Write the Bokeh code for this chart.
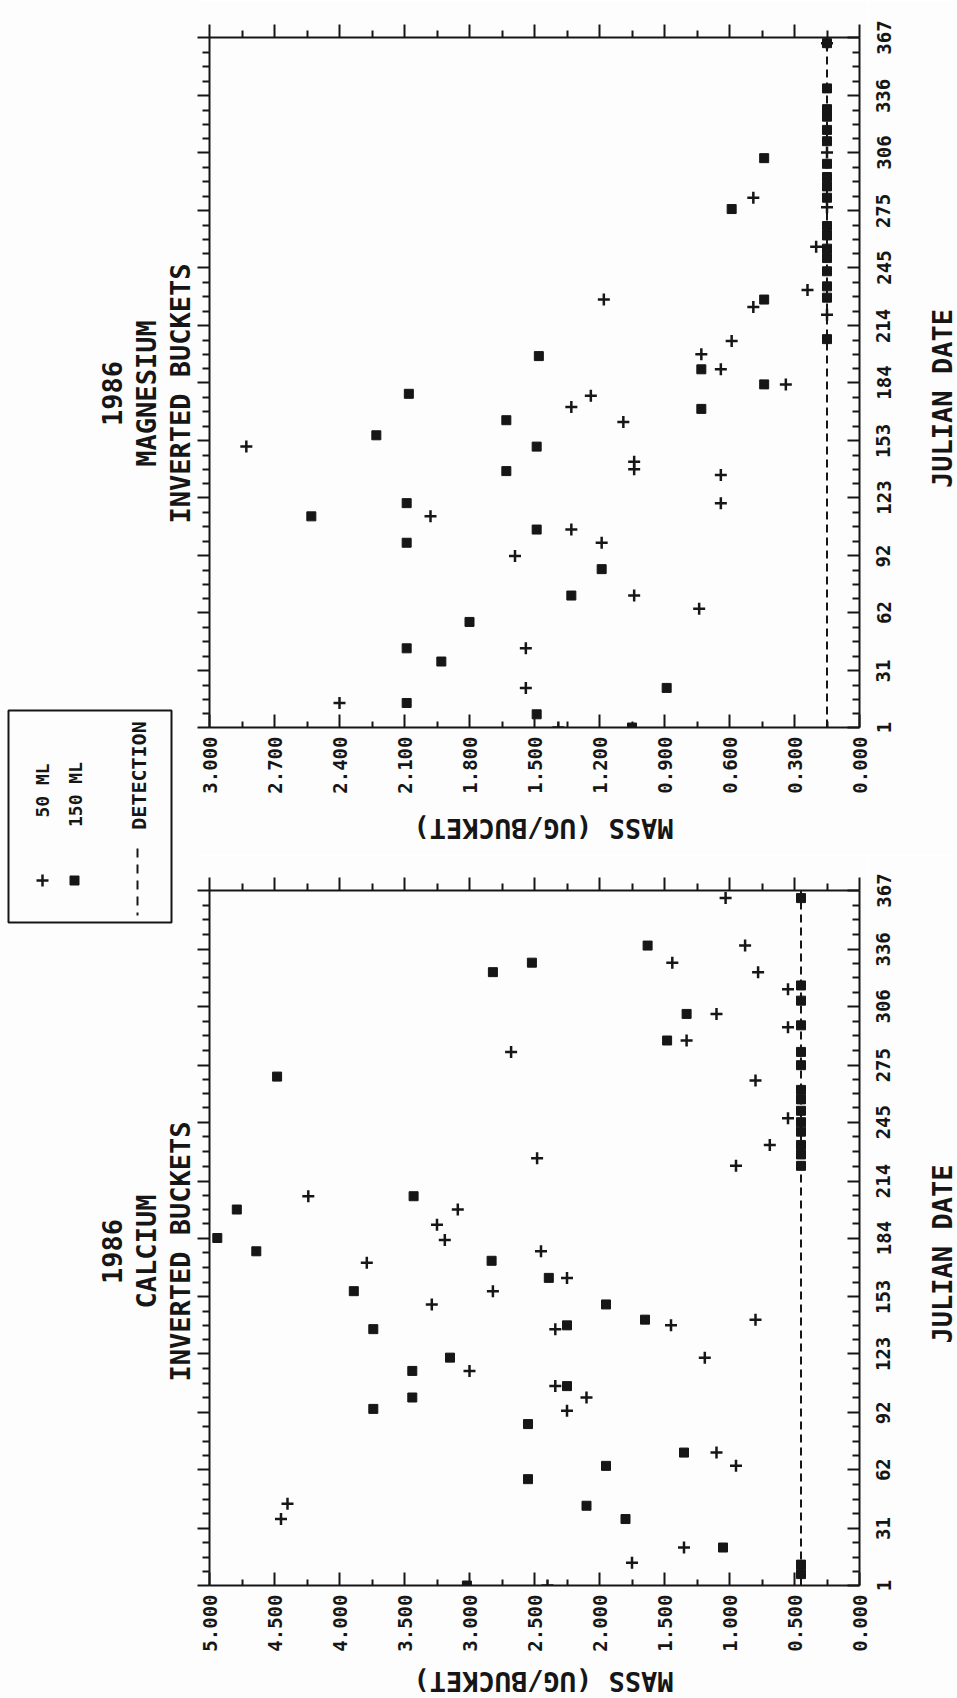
import math

from bokeh.embed import file_html
from bokeh.layouts import column, row
from bokeh.models import FixedTicker, Label, LinearAxis, PrintfTickFormatter, Range1d
from bokeh.plotting import figure
from bokeh.resources import INLINE

# ---------------------------------------------------------------- data
JULIAN_TICKS = [1, 31, 62, 92, 123, 153, 184, 214, 245, 275, 306, 336, 367]

MG_MASS_TICKS = [0.0, 0.3, 0.6, 0.9, 1.2, 1.5, 1.8, 2.1, 2.4, 2.7, 3.0]
CA_MASS_TICKS = [0.0, 0.5, 1.0, 1.5, 2.0, 2.5, 3.0, 3.5, 4.0, 4.5, 5.0]

MG_DETECTION = 0.15
CA_DETECTION = 0.45

# magnesium, 50 ml samples (julian day, mass ug/bucket)
MG_50_DAY = [1, 14, 22, 43, 64, 71, 92, 99, 106, 113, 120, 135, 138, 142, 150,
             163, 171, 177, 183, 191, 199, 206, 220, 224, 228, 233, 256, 277,
             282, 306, 364]
MG_50_MASS = [1.39, 2.40, 1.54, 1.54, 0.74, 1.04, 1.59, 1.19, 1.33, 1.98, 0.64,
              0.64, 1.04, 1.04, 2.83, 1.09, 1.33, 1.24, 0.34, 0.64, 0.73, 0.59,
              0.15, 0.49, 1.18, 0.24, 0.20, 0.15, 0.49, 0.15, 0.15]

# magnesium, 150 ml samples
MG_150_DAY = [1, 8, 14, 22, 36, 43, 57, 71, 85, 99, 106, 113, 120, 137, 150,
              156, 164, 170, 178, 183, 191, 198, 207, 228, 229, 235, 243, 250,
              255, 262, 267, 276, 282, 288, 293, 300, 303, 312, 318, 325, 329,
              340, 364]
MG_150_MASS = [1.05, 1.49, 2.09, 0.89, 1.93, 2.09, 1.80, 1.33, 1.19, 2.09, 1.49,
               2.53, 2.09, 1.63, 1.49, 2.23, 1.63, 0.73, 2.08, 0.44, 0.73, 1.48,
               0.15, 0.44, 0.15, 0.15, 0.15, 0.15, 0.15, 0.15, 0.15, 0.59, 0.15,
               0.15, 0.15, 0.15, 0.44, 0.15, 0.15, 0.15, 0.15, 0.15, 0.15]

# calcium, 50 ml samples
CA_50_DAY = [1, 13, 21, 36, 44, 64, 71, 93, 100, 106, 114, 121, 136, 138, 141,
             149, 156, 163, 171, 177, 183, 191, 199, 206, 222, 226, 233, 247,
             267, 282, 288, 295, 302, 315, 324, 329, 338, 363]
CA_50_MASS = [2.40, 1.75, 1.35, 4.45, 4.40, 0.95, 1.10, 2.25, 2.10, 2.34, 3.00,
              1.19, 2.34, 1.45, 0.80, 3.29, 2.82, 2.25, 3.79, 2.45, 3.19, 3.25,
              3.09, 4.24, 0.95, 2.48, 0.69, 0.55, 0.80, 2.68, 1.33, 0.55, 1.10,
              0.55, 0.78, 1.44, 0.88, 1.03]

# calcium, 150 ml samples
CA_150_DAY = [1, 7, 12, 21, 36, 43, 57, 64, 71, 86, 94, 100, 106, 114, 121,
              136, 138, 141, 149, 156, 163, 172, 177, 184, 199, 206, 222, 228,
              233, 240, 245, 251, 257, 262, 269, 275, 282, 288, 296, 302, 309,
              317, 324, 329, 338, 363]
CA_150_MASS = [3.02, 0.45, 0.45, 1.05, 1.80, 2.10, 2.55, 1.95, 1.35, 2.55, 3.74,
               3.44, 2.25, 3.44, 3.15, 3.74, 2.25, 1.65, 1.95, 3.89, 2.39, 2.83,
               4.64, 4.94, 4.79, 3.43, 0.45, 0.45, 0.45, 0.45, 0.45, 0.45, 0.45,
               0.45, 4.48, 0.45, 0.45, 1.48, 0.45, 1.33, 0.45, 0.45, 2.82, 2.52,
               1.63, 0.45]

# ---------------------------------------------------------------- style
FONT = "DejaVu Sans Mono"
WEIGHT = "bold"
INK = "#161616"
PAPER = "#fdfdfd"
PAGE_W, PAGE_H = 957, 1698

SIDE_W = 197          # strip with the panel titles and the legend
FRAME_W = 650
BORDER_L = 12
BORDER_R = 9          # room for the half of the last mass label past the frame
PANEL_W = BORDER_L + FRAME_W + BORDER_R
DAYS_W = PAGE_W - SIDE_W - PANEL_W     # day labels and "JULIAN DATE"
DAYS_GAP = 24                           # from panel edge to the day-label frame
DAYS_STANDOFF = 2

MG_H, MG_TOP, MG_FRAME = 805, 37, 690
MG_STRIP = 50
CA_H, CA_TOP, CA_FRAME = 805, 35, 695
CA_STRIP = PAGE_H - MG_H - MG_STRIP - CA_H


def quarter_ticks(major):
    out = []
    for a, b in zip(major[:-1], major[1:]):
        out += [a + (b - a) * k / 4 for k in (1, 2, 3)]
    return out


def half_ticks(major):
    return [(a + b) / 2 for a, b in zip(major[:-1], major[1:])]


def axis(ticks, minor, fmt, tick_in, tick_out, minor_in, minor_out, labels=None,
         standoff=0, line=True):
    ax = LinearAxis(
        ticker=FixedTicker(ticks=ticks, minor_ticks=minor),
        formatter=PrintfTickFormatter(format=fmt),
        axis_line_color=INK if line else None, axis_line_width=2,
        major_tick_line_color=INK if line else None, major_tick_line_width=2,
        minor_tick_line_color=INK if line else None, minor_tick_line_width=2,
        major_tick_in=tick_in, major_tick_out=tick_out,
        minor_tick_in=minor_in, minor_tick_out=minor_out,
        major_label_text_font=FONT,
        major_label_text_font_style=WEIGHT,
        major_label_text_color=INK,
        major_label_standoff=standoff,
    )
    if labels is not None:
        ax.major_label_orientation = labels
        ax.major_label_text_font_size = "19px"
    else:
        # tick marks only: the mirrored sides of the frame carry no numbers
        ax.major_label_overrides = {t: "" for t in ticks}
        ax.major_label_text_font_size = "0px"
        ax.major_label_text_alpha = 0
    return ax


def blank(width, height, x_max, y_max):
    """A figure whose frame fills the canvas, with pixel-like ranges (y down)."""
    return figure(
        width=width, height=height,
        x_range=Range1d(0, x_max), y_range=Range1d(y_max, 0),
        x_axis_type=None, y_axis_type=None, min_border=0,
        output_backend="svg", toolbar_location=None,
        background_fill_color=PAPER, border_fill_color=PAPER,
        outline_line_color=None,
    )


def text_label(x, y, text, size, angle=math.pi / 2, units="data"):
    return Label(x=x, y=y, x_units=units, y_units=units, text=text, angle=angle,
                 text_align="center", text_baseline="middle",
                 text_font=FONT, text_font_style=WEIGHT,
                 text_font_size=size, text_color=INK)


def panel(height, top, frame_h, mass_ticks, det, d50, m50, d150, m150):
    days = Range1d(JULIAN_TICKS[0], JULIAN_TICKS[-1])
    bottom = height - top - frame_h
    p = figure(
        width=PANEL_W, height=height,
        x_range=Range1d(mass_ticks[-1], mass_ticks[0]), y_range=days,
        x_axis_type=None, y_axis_type=None,
        min_border_left=BORDER_L, min_border_right=BORDER_R,
        min_border_top=top, min_border_bottom=bottom,
        output_backend="svg", toolbar_location=None,
        background_fill_color=PAPER, border_fill_color=PAPER,
        outline_line_color=None,
    )
    mass_minor = half_ticks(mass_ticks)
    day_minor = quarter_ticks(JULIAN_TICKS)

    p.add_layout(axis(mass_ticks, mass_minor, "%.3f", 13, 0, 6, 0, math.pi / 2, 9), "below")
    p.add_layout(axis(mass_ticks, mass_minor, "%.3f", 0, 13, 0, 7), "above")
    p.add_layout(axis(JULIAN_TICKS, day_minor, "%d", 0, 12, 0, 7), "left")
    p.add_layout(axis(JULIAN_TICKS, day_minor, "%d", 12, 0, 7, 0), "right")

    # detection limit
    p.line(x=[det, det], y=[JULIAN_TICKS[0], JULIAN_TICKS[-1]],
           line_color=INK, line_width=2, line_dash="8 5")

    p.scatter(x=m50, y=d50, marker="cross", size=12, line_width=2.5,
              line_color=INK)
    p.scatter(x=m150, y=d150, marker="square", size=9, line_width=1,
              line_color=INK, fill_color=INK)

    # day labels: a companion strip sharing the day range, labelled from its left axis
    d = figure(
        width=DAYS_W, height=height,
        x_range=Range1d(0, DAYS_W - DAYS_GAP), y_range=days,
        x_axis_type=None, y_axis_type=None,
        min_border_left=DAYS_GAP, min_border_right=0,
        min_border_top=top, min_border_bottom=bottom,
        output_backend="svg", toolbar_location=None,
        background_fill_color=PAPER, border_fill_color=PAPER,
        outline_line_color=None,
    )
    d.add_layout(axis(JULIAN_TICKS, [], "%d", 0, 0, 0, 0, "vertical",
                      DAYS_STANDOFF, line=False), "left")
    d.add_layout(text_label(50, frame_h / 2 - 16, "JULIAN DATE", "27px",
                            units="screen"))
    return row(p, d, spacing=0)


mg = panel(MG_H, MG_TOP, MG_FRAME, MG_MASS_TICKS, MG_DETECTION,
           MG_50_DAY, MG_50_MASS, MG_150_DAY, MG_150_MASS)
ca = panel(CA_H, CA_TOP, CA_FRAME, CA_MASS_TICKS, CA_DETECTION,
           CA_50_DAY, CA_50_MASS, CA_150_DAY, CA_150_MASS)

# mass axis titles (printed upside down) under each panel
strip_w = PAGE_W - SIDE_W
mg_mass = blank(strip_w, MG_STRIP, strip_w, MG_STRIP)
mg_mass.add_layout(text_label(346, 23, "MASS (UG/BUCKET)", "27px", math.pi))
ca_mass = blank(strip_w, CA_STRIP, strip_w, CA_STRIP)
ca_mass.add_layout(text_label(346, 21, "MASS (UG/BUCKET)", "27px", math.pi))

# ---------------------------------------------------------------- side strip
side = blank(SIDE_W, PAGE_H, SIDE_W, PAGE_H)

for cy, element in ((393, "MAGNESIUM"), (1251, "CALCIUM")):
    side.add_layout(text_label(111, cy, "1986", "27px"))
    side.add_layout(text_label(146, cy, element, "27px"))
    side.add_layout(text_label(180, cy, "INVERTED BUCKETS", "27px"))

# legend
side.quad(left=8, right=171, top=710, bottom=922, fill_color=None,
          line_color=INK, line_width=2)
side.scatter(x=[42], y=[880], marker="cross", size=12, line_width=2.5,
             line_color=INK)
side.scatter(x=[74], y=[880], marker="square", size=9, line_color=INK,
             fill_color=INK)
side.line(x=[137, 137], y=[848, 915], line_color=INK, line_width=2,
          line_dash="9 7")
side.add_layout(text_label(42, 790, "50 ML", "18px"))
side.add_layout(text_label(75, 794, "150 ML", "18px"))
side.add_layout(text_label(138, 775, "DETECTION", "20px"))

layout = row(side, column(mg, mg_mass, ca, ca_mass, spacing=0), spacing=0)

open("out.html", "w").write(file_html(layout, INLINE, "1986 inverted buckets"))
